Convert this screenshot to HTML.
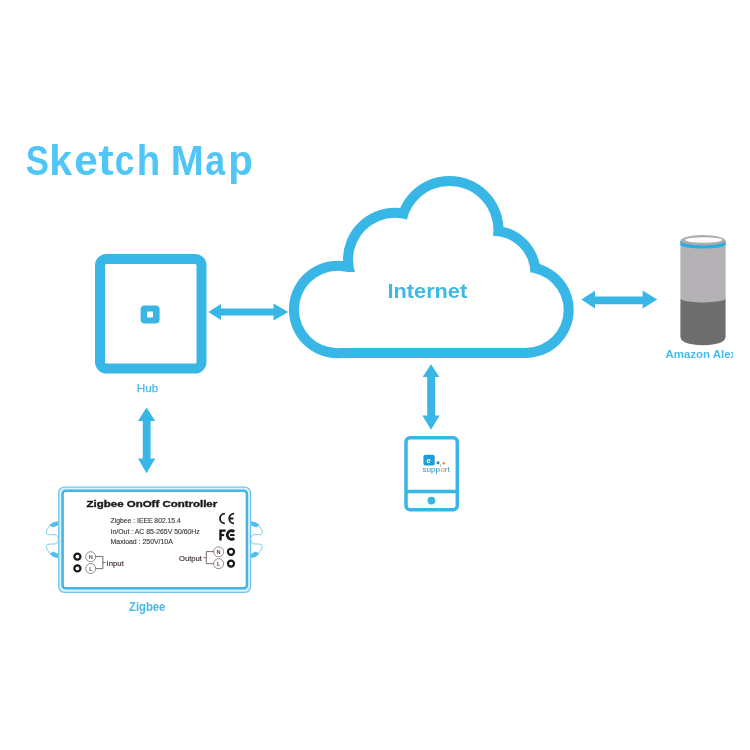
<!DOCTYPE html>
<html>
<head>
<meta charset="utf-8">
<title>Sketch Map</title>
<style>
html,body{margin:0;padding:0;background:#ffffff;}
body{width:750px;height:750px;overflow:hidden;font-family:"Liberation Sans",sans-serif;}
svg{display:block;}
text{font-family:"Liberation Sans",sans-serif;}
</style>
</head>
<body>
<svg width="750" height="750" viewBox="0 0 750 750">
<defs>
  <filter id="soft" x="-5%" y="-5%" width="110%" height="110%"><feGaussianBlur stdDeviation="0.45"/></filter>
  <filter id="soft2" x="-5%" y="-5%" width="110%" height="110%"><feGaussianBlur stdDeviation="0.35"/></filter>
  <clipPath id="alexaclip"><rect x="650" y="340" width="83" height="30"/></clipPath>
</defs>
<rect x="0" y="0" width="750" height="750" fill="#ffffff"/>

<!-- Title -->
<g font-size="43.4" font-weight="bold" fill="#4fc5f8" filter="url(#soft)">
<text transform="translate(25.86 174.5) scale(0.800 1)">S</text>
<text transform="translate(49.27 174.5) scale(0.943 1)">k</text>
<text transform="translate(74.14 174.5) scale(0.976 1)">e</text>
<text transform="translate(98.37 174.5) scale(1.067 1)">t</text>
<text transform="translate(114.81 174.5) scale(0.816 1)">c</text>
<text transform="translate(136.65 174.5) scale(0.885 1)">h</text>
<text transform="translate(170.65 174.5) scale(0.914 1)">M</text>
<text transform="translate(205.23 174.5) scale(0.823 1)">a</text>
<text transform="translate(228.30 174.5) scale(0.931 1)">p</text>
</g>

<!-- Hub -->
<g filter="url(#soft)">
<rect x="100" y="259" width="101.5" height="109.5" rx="6.5" ry="6.5" fill="#ffffff" stroke="#38b7e6" stroke-width="10"/>
<rect x="140.6" y="305.6" width="19" height="18" rx="4" ry="4" fill="#38b7e6"/>
<rect x="147" y="311.6" width="6" height="6" rx="0.8" fill="#ffffff"/>
</g>
<text x="136.8" y="391.6" font-size="11.6" fill="#48bce8" stroke="#48bce8" stroke-width="0.25" textLength="21.6" lengthAdjust="spacingAndGlyphs" filter="url(#soft2)">Hub</text>

<!-- Arrow Hub - Cloud -->
<g fill="#38b7e6" filter="url(#soft2)">
<path d="M208.3 312 L221 304 L221 308.6 L273.5 308.6 L273.5 303.4 L288.3 312 L273.5 320.6 L273.5 315.6 L221 315.6 L221 320 Z"/>
<!-- Arrow Hub - Zigbee -->
<path d="M146.5 407.6 L155.2 421 L150.6 421 L150.6 458.5 L155.2 458.5 L146.5 473.2 L138 458.5 L142.8 458.5 L142.8 421 L138 421 Z"/>
<!-- Arrow Cloud - Phone -->
<path d="M431 364.2 L439.4 377 L435.2 377 L435.2 415.4 L439.6 415.4 L431 429.8 L422.4 415.4 L427.2 415.4 L427.2 377 L422.6 377 Z"/>
<!-- Arrow Cloud - Alexa -->
<path d="M581.3 299.5 L595 290.8 L595 296.6 L642.7 296.6 L642.7 290.6 L657.3 299.5 L642.7 308.6 L642.7 304.2 L595 304.2 L595 308.4 Z"/>
</g>

<!-- Cloud -->
<g filter="url(#soft)">
<g fill="#38b7e6">
<circle cx="337.7" cy="309.5" r="48.8"/>
<circle cx="395" cy="259.7" r="52"/>
<circle cx="449.5" cy="230" r="54"/>
<circle cx="492.7" cy="273.5" r="47.8"/>
<circle cx="525.7" cy="310" r="48"/>
<rect x="337" y="262" width="188.7" height="96"/>
</g>
<g fill="#ffffff">
<circle cx="337.7" cy="309.5" r="38.8"/>
<circle cx="395" cy="259.7" r="42"/>
<circle cx="449.5" cy="230" r="44"/>
<circle cx="492.7" cy="273.5" r="37.8"/>
<circle cx="525.7" cy="310" r="38"/>
<rect x="337" y="272" width="188.7" height="76"/>
<polygon points="337,310 395,259 449.5,230 492.7,273.5 525.7,310"/>
</g>
</g>
<text x="387.5" y="298" font-size="21" font-weight="bold" fill="#3fb9e7" textLength="79.7" lengthAdjust="spacingAndGlyphs" filter="url(#soft2)">Internet</text>

<!-- Phone -->
<g filter="url(#soft2)">
<rect x="406" y="437.7" width="51.3" height="72" rx="4" ry="4" fill="#ffffff" stroke="#38b7e6" stroke-width="3.5"/>
<line x1="406" y1="491.6" x2="457.3" y2="491.6" stroke="#38b7e6" stroke-width="3.5"/>
<circle cx="431.4" cy="500.6" r="3.9" fill="#38b7e6"/>
<rect x="423.4" y="454.8" width="11.3" height="10.8" rx="2.2" fill="#1f9fd8"/>
<text x="426.6" y="463.2" font-size="7.5" font-weight="bold" fill="#ffffff">e</text>
<circle cx="438" cy="462.8" r="1.5" fill="#2f80b8"/>
<circle cx="443.7" cy="463.2" r="1.2" fill="#f08a3c"/>
<circle cx="440.6" cy="465.2" r="0.8" fill="#6fbf5a"/>
<text x="422.4" y="471.6" font-size="6.6" fill="#2f93cf" textLength="27.3" lengthAdjust="spacingAndGlyphs">supp<tspan fill="#f08a3c">o</tspan>rt</text>
</g>

<!-- Echo -->
<g filter="url(#soft)">
<path d="M680.4 241 L725.6 241 L725.6 299 A22.6 3.8 0 0 1 680.4 299 Z" fill="#b4b2b4"/>
<path d="M680.4 298.6 A22.6 3.8 0 0 0 725.6 298.6 L725.6 337 Q725 342.5 714 344.3 Q703 346.2 692 344.3 Q681 342.5 680.4 337 Z" fill="#6e6e6e"/>
<ellipse cx="703" cy="241" rx="22.6" ry="5.9" fill="#adacad"/>
<ellipse cx="703.6" cy="240" rx="18.4" ry="2.7" fill="#ffffff"/>
<path d="M680.4 240.4 A22.6 5 0 0 0 725.6 240.4 L725.6 244.8 A22.6 3.8 0 0 1 680.4 244.8 Z" fill="#2eaee0"/>
</g>
<g clip-path="url(#alexaclip)">
<text x="665.4" y="358" font-size="11.6" font-weight="bold" fill="#45bdea" textLength="78" lengthAdjust="spacingAndGlyphs" filter="url(#soft2)">Amazon Alexa</text>
</g>

<!-- Zigbee controller -->
<g filter="url(#soft2)">
<!-- clips -->
<g fill="none" stroke="#7fcdf0" stroke-width="1">
<path d="M58.5 521.7 Q51 522.5 49 527 Q46 530 46 533 Q46.5 534.7 50 534.7 L55 534.7 Q58 535 58.5 540 Q58 543.5 55 544 L50 544 Q46.5 544 46.2 546 Q46.5 550 50 553.5 Q53 557 58.5 557.7"/>
<path d="M250.5 521.7 Q258 522.5 260 527 Q262.5 530 262.5 533 Q262 534.7 258.5 534.7 L254 534.7 Q251 535 250.5 540 Q251 543.5 254 544 L258.5 544 Q262 544 262.3 546 Q262 550 258.5 553.5 Q255.5 557 250.5 557.7"/>
</g>
<g fill="#52bdeb">
<path d="M58.5 521.4 Q51.5 522 49.6 525.6 L53 527.4 L58.5 525 Z"/>
<path d="M58.5 557.9 Q52 557.4 49.8 553.4 L53.4 551.6 L58.5 554.2 Z"/>
<path d="M250.5 521.4 Q257.5 522 259.4 525.6 L256 527.4 L250.5 525 Z"/>
<path d="M250.5 557.9 Q257 557.4 259.2 553.4 L255.6 551.6 L250.5 554.2 Z"/>
</g>
<rect x="58.7" y="487.1" width="191.8" height="105.2" rx="5.5" ry="5.5" fill="#d6f2fd" stroke="#74c6ec" stroke-width="1.3"/>
<rect x="62.6" y="490.7" width="184.3" height="97.5" rx="3" ry="3" fill="#ffffff" stroke="#44b3e4" stroke-width="2.5"/>
</g>

<g filter="url(#soft)">
<text x="86.6" y="506.7" font-size="8.2" font-weight="bold" fill="#1e1a1a" stroke="#1e1a1a" stroke-width="0.35" textLength="130.6" lengthAdjust="spacingAndGlyphs">Zigbee OnOff Controller</text>
<g font-size="7.4" fill="#3c3c3c" stroke="#3c3c3c" stroke-width="0.15">
<text x="110.6" y="523.3" textLength="70.2" lengthAdjust="spacingAndGlyphs">Zigbee : IEEE 802.15.4</text>
<text x="110.6" y="534.2" textLength="89.2" lengthAdjust="spacingAndGlyphs">In/Out : AC 85-265V 50/60Hz</text>
<text x="110.6" y="544" textLength="62.2" lengthAdjust="spacingAndGlyphs">Maxload : 250V/10A</text>
</g>
<!-- CE -->
<g fill="none" stroke="#141414" stroke-width="1.8">
<path d="M224.8 513.7 A4.8 4.8 0 0 0 224.8 523.3"/>
<path d="M234 513.7 A4.8 4.8 0 0 0 234 523.3 M229.8 518.5 L233.4 518.5"/>
</g>
<!-- FC -->
<g fill="none" stroke="#141414">
<path d="M220.5 540.6 L220.5 530.6 M219.3 530.6 L225.6 530.6" stroke-width="2.4"/>
<path d="M220.5 535.1 L224.2 535.1" stroke-width="2"/>
<path d="M234.2 531.6 A4.3 4.3 0 1 0 234.2 538.4" stroke-width="2.7"/>
<path d="M230 535.1 L234.6 535.1" stroke-width="1.9"/>
</g>
<!-- Input terminals -->
<g fill="none" stroke="#151515" stroke-width="2.2">
<circle cx="77.4" cy="556.6" r="3.05"/>
<circle cx="77.4" cy="568.4" r="3.05"/>
<circle cx="231" cy="551.8" r="3.05"/>
<circle cx="231" cy="563.6" r="3.05"/>
</g>
<g fill="#ffffff" stroke="#8a8080" stroke-width="0.9">
<circle cx="90.7" cy="556.7" r="5"/>
<circle cx="90.7" cy="568.5" r="5"/>
<circle cx="218.6" cy="551.8" r="5"/>
<circle cx="218.6" cy="563.7" r="5"/>
</g>
<g font-size="5.6" fill="#555555" text-anchor="middle" font-weight="bold">
<text x="90.7" y="558.7">N</text>
<text x="90.9" y="570.5">L</text>
<text x="218.6" y="553.8" fill="#7a3030">N</text>
<text x="218.8" y="565.7" fill="#7a3030">L</text>
</g>
<g fill="none" stroke="#5a4a4a" stroke-width="0.8">
<path d="M95.4 556.5 L102.9 556.5 L102.9 568.6 L95.4 568.6 M102.9 562.5 L105.6 562.5"/>
<path d="M213.9 551.6 L206.3 551.6 L206.3 563.7 L213.9 563.7 M206.3 557.7 L203.4 557.7"/>
</g>
<text x="106.6" y="565.7" font-size="7.6" fill="#3e2e2e" stroke="#3e2e2e" stroke-width="0.15" textLength="17.2" lengthAdjust="spacingAndGlyphs">Input</text>
<text x="179" y="560.6" font-size="7.6" fill="#3e2e2e" stroke="#3e2e2e" stroke-width="0.15" textLength="23" lengthAdjust="spacingAndGlyphs">Output</text>
</g>
<text x="129" y="611.4" font-size="12.4" font-weight="bold" fill="#4ab9e6" textLength="36.3" lengthAdjust="spacingAndGlyphs" filter="url(#soft2)">Zigbee</text>
</svg>
</body>
</html>
